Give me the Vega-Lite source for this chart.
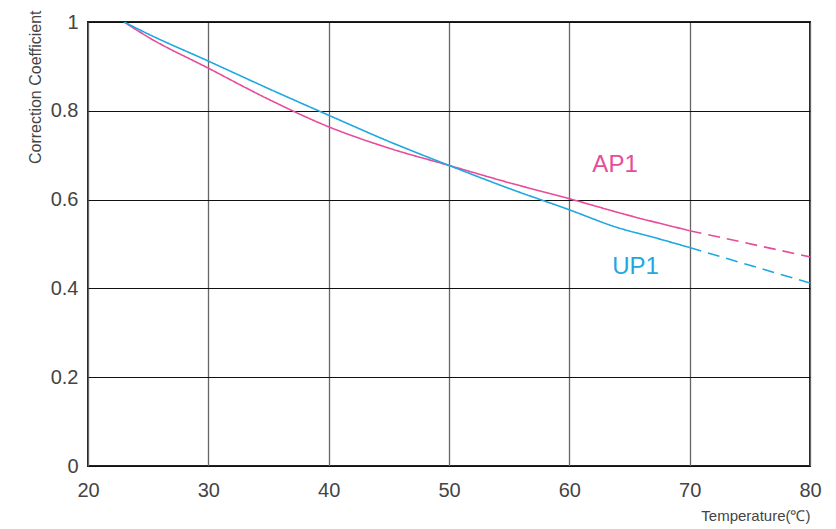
{
  "$schema": "https://vega.github.io/schema/vega-lite/v6.json",
  "width": 722,
  "height": 444,
  "autosize": {"type": "none"},
  "padding": {"left": 88, "top": 22, "right": 26, "bottom": 63},
  "background": "white",
  "config": {
    "view": {"stroke": "#222", "strokeWidth": 2},
    "font": "Liberation Sans"
  },
  "datasets": {
    "curves": [
      {"series": "AP1", "seg": "AP1-solid", "style": "solid", "T": 23, "coef": 1.0},
      {"series": "AP1", "seg": "AP1-solid", "style": "solid", "T": 25, "coef": 0.966},
      {"series": "AP1", "seg": "AP1-solid", "style": "solid", "T": 30, "coef": 0.896},
      {"series": "AP1", "seg": "AP1-solid", "style": "solid", "T": 35, "coef": 0.826},
      {"series": "AP1", "seg": "AP1-solid", "style": "solid", "T": 40, "coef": 0.764},
      {"series": "AP1", "seg": "AP1-solid", "style": "solid", "T": 45, "coef": 0.716},
      {"series": "AP1", "seg": "AP1-solid", "style": "solid", "T": 50, "coef": 0.677},
      {"series": "AP1", "seg": "AP1-solid", "style": "solid", "T": 55, "coef": 0.638},
      {"series": "AP1", "seg": "AP1-solid", "style": "solid", "T": 60, "coef": 0.602},
      {"series": "AP1", "seg": "AP1-solid", "style": "solid", "T": 65, "coef": 0.564},
      {"series": "AP1", "seg": "AP1-solid", "style": "solid", "T": 70, "coef": 0.530},
      {"series": "AP1", "seg": "AP1-dash", "style": "dashed", "T": 70, "coef": 0.530},
      {"series": "AP1", "seg": "AP1-dash", "style": "dashed", "T": 80, "coef": 0.471},
      {"series": "UP1", "seg": "UP1-solid", "style": "solid", "T": 23, "coef": 1.0},
      {"series": "UP1", "seg": "UP1-solid", "style": "solid", "T": 25, "coef": 0.973},
      {"series": "UP1", "seg": "UP1-solid", "style": "solid", "T": 30, "coef": 0.912},
      {"series": "UP1", "seg": "UP1-solid", "style": "solid", "T": 35, "coef": 0.850},
      {"series": "UP1", "seg": "UP1-solid", "style": "solid", "T": 40, "coef": 0.790},
      {"series": "UP1", "seg": "UP1-solid", "style": "solid", "T": 45, "coef": 0.731},
      {"series": "UP1", "seg": "UP1-solid", "style": "solid", "T": 50, "coef": 0.677},
      {"series": "UP1", "seg": "UP1-solid", "style": "solid", "T": 55, "coef": 0.625},
      {"series": "UP1", "seg": "UP1-solid", "style": "solid", "T": 60, "coef": 0.577},
      {"series": "UP1", "seg": "UP1-solid", "style": "solid", "T": 64, "coef": 0.537},
      {"series": "UP1", "seg": "UP1-solid", "style": "solid", "T": 67, "coef": 0.515},
      {"series": "UP1", "seg": "UP1-solid", "style": "solid", "T": 70, "coef": 0.492},
      {"series": "UP1", "seg": "UP1-dash", "style": "dashed", "T": 70, "coef": 0.492},
      {"series": "UP1", "seg": "UP1-dash", "style": "dashed", "T": 80, "coef": 0.412}
    ],
    "labels": [
      {"series": "AP1", "T": 63.8, "coef": 0.678},
      {"series": "UP1", "T": 65.5, "coef": 0.448}
    ]
  },
  "layer": [
    {
      "data": {"name": "curves"},
      "mark": {"type": "line", "strokeWidth": 1.6, "interpolate": "monotone", "clip": true},
      "encoding": {
        "x": {
          "field": "T", "type": "quantitative",
          "scale": {"domain": [20, 80], "nice": false, "zero": false},
          "axis": {
            "values": [20, 30, 40, 50, 60, 70, 80],
            "title": "Temperature(℃)",
            "titleFontSize": 15, "titleFontWeight": "normal", "titleColor": "#444",
            "titleAlign": "right", "titleAnchor": null, "titleBaseline": "middle",
            "titleX": 722, "titleY": 49,
            "labelFontSize": 20, "labelColor": "#444", "labelPadding": 14,
            "labelFlush": false,
            "domain": false, "ticks": false,
            "grid": true, "gridColor": "#666", "gridWidth": 1.3
          }
        },
        "y": {
          "field": "coef", "type": "quantitative",
          "scale": {"domain": [0, 1], "nice": false},
          "axis": {
            "values": [0, 0.2, 0.4, 0.6, 0.8, 1],
            "format": "~g",
            "title": "Correction Coefficient",
            "titleFontSize": 16, "titleFontWeight": "normal", "titleColor": "#444",
            "titleAngle": 270, "titleAlign": "right", "titleAnchor": null, "titleBaseline": "middle",
            "titleX": -53, "titleY": -12,
            "labelFontSize": 20, "labelColor": "#444", "labelPadding": 10,
            "labelFlush": false,
            "domain": false, "ticks": false,
            "grid": true, "gridColor": "#111", "gridWidth": 1
          }
        },
        "color": {
          "field": "series", "type": "nominal",
          "scale": {"domain": ["AP1", "UP1"], "range": ["#E64C9A", "#1EA7E0"]},
          "legend": null
        },
        "strokeDash": {
          "field": "style", "type": "nominal",
          "scale": {"domain": ["solid", "dashed"], "range": [[1, 0], [12, 7]]},
          "legend": null
        },
        "detail": {"field": "seg"}
      }
    },
    {
      "data": {"name": "labels"},
      "mark": {"type": "text", "fontSize": 24, "align": "center", "baseline": "middle"},
      "encoding": {
        "x": {"field": "T", "type": "quantitative"},
        "y": {"field": "coef", "type": "quantitative"},
        "text": {"field": "series"},
        "color": {"field": "series", "type": "nominal", "legend": null}
      }
    }
  ]
}
